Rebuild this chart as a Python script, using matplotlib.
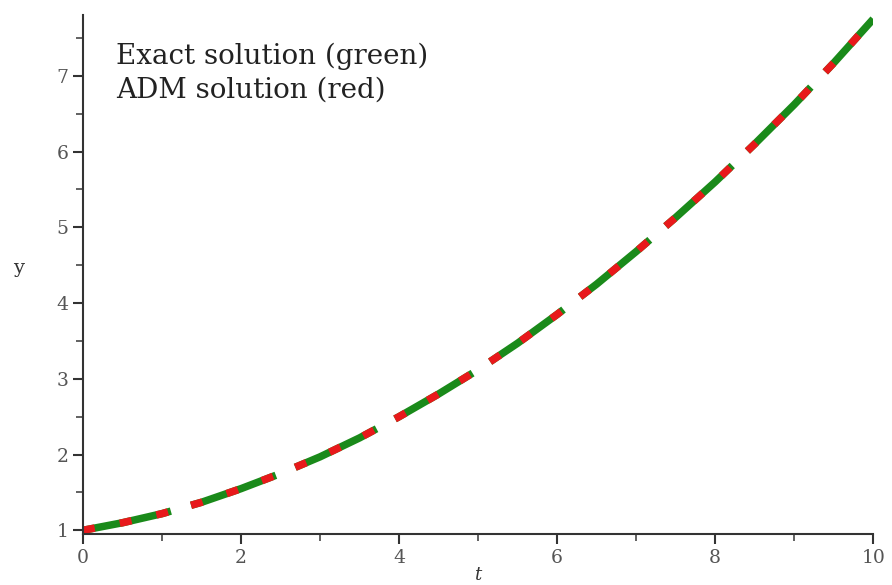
import matplotlib.pyplot as plt
from matplotlib.ticker import MultipleLocator

# values
t = [0, 0.5, 1, 1.5, 2, 2.5, 3, 3.5, 4, 4.5, 5, 5.5, 6, 6.5, 7, 7.5, 8, 8.5, 9, 9.5, 10]
y_exact = [1.0, 1.10, 1.22, 1.37, 1.55, 1.75, 1.97, 2.22, 2.50, 2.80, 3.12,
           3.47, 3.85, 4.25, 4.68, 5.13, 5.60, 6.10, 6.62, 7.17, 7.75]
y_adm = [1.0, 1.10, 1.22, 1.37, 1.55, 1.75, 1.97, 2.22, 2.50, 2.80, 3.12,
         3.47, 3.85, 4.25, 4.68, 5.13, 5.60, 6.10, 6.62, 7.17, 7.75]

plt.rcParams['font.family'] = ['DejaVu Serif']

fig = plt.figure(figsize=(8.92, 5.85), dpi=100)
ax = fig.add_axes([0.093, 0.087, 0.886, 0.887])

# green long dashes, red short dashes on top sharing the same gaps
ax.plot(t, y_exact, color='#1a8a1a', lw=5.4, linestyle=(0, (12, 2.8)),
        dash_capstyle='butt')
ax.plot(t, y_adm, color='#e8191b', lw=5.4,
        linestyle=(0, (1.6, 3.4, 1.6, 3.4, 1.6, 3.2)), dash_capstyle='butt')

ax.set_xlim(0, 10)
ax.set_ylim(0.95, 7.8)
ax.xaxis.set_major_locator(MultipleLocator(2))
ax.xaxis.set_minor_locator(MultipleLocator(1))
ax.yaxis.set_major_locator(MultipleLocator(1))
ax.yaxis.set_minor_locator(MultipleLocator(0.5))

for side in ['top', 'right']:
    ax.spines[side].set_visible(False)
for side in ['left', 'bottom']:
    ax.spines[side].set_color('#333333')
    ax.spines[side].set_linewidth(1.5)

ax.tick_params(which='major', length=7, width=1.5, color='#333333',
               labelsize=13.5, labelcolor='#555555')
ax.tick_params(which='minor', length=5, width=1.3, color='#555555')
ax.tick_params(axis='x', pad=4)

ax.text(0.42, 7.16, 'Exact solution (green)', fontsize=20, color='#222222', va='baseline')
ax.text(0.42, 6.71, 'ADM solution (red)', fontsize=20, color='#222222', va='baseline')

ax.set_ylabel('y', rotation=0, fontsize=14, color='#333333')
ax.yaxis.set_label_coords(-0.082, 0.495)
ax.set_xlabel('t', fontsize=13, style='italic', color='#333333', labelpad=-1)

fig.savefig('out.png', dpi=100)
